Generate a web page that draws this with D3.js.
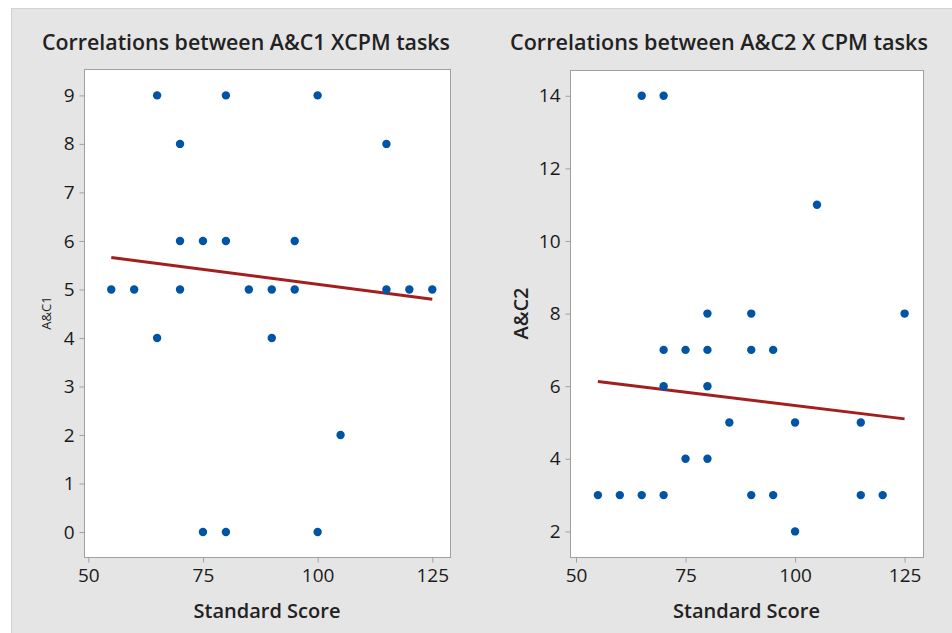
<!DOCTYPE html>
<html>
<head>
<meta charset="utf-8">
<script src="https://cdn.jsdelivr.net/npm/d3@7"></script>
<style>
  body { margin: 0; background: #fff; }
  svg { display: block; font-family: "Open Sans", "Noto Sans", sans-serif; }
</style>
</head>
<body>
<div id="chart"></div>
<script>
// A&C1 vs standard score
const score1 = [65, 80, 100, 70, 115, 70, 75, 80, 95, 55, 60, 70, 85, 90, 95, 115, 120, 125, 65, 90, 105, 75, 80, 100];
const ac1    = [9, 9, 9, 8, 8, 6, 6, 6, 6, 5, 5, 5, 5, 5, 5, 5, 5, 5, 4, 4, 2, 0, 0, 0];
// fitted line (end points)
const fit1 = [[55, 5.66], [125, 4.80]];

// A&C2 vs standard score
const score2 = [65, 70, 105, 80, 90, 125, 70, 75, 80, 90, 95, 70, 80, 85, 100, 115, 75, 80, 55, 60, 65, 70, 90, 95, 115, 120, 100];
const ac2    = [14, 14, 11, 8, 8, 8, 7, 7, 7, 7, 7, 6, 6, 5, 5, 5, 4, 4, 3, 3, 3, 3, 3, 3, 3, 3, 2];
const fit2 = [[55, 6.13], [125, 5.10]];

const xTicks = [50, 75, 100, 125];
const yTicks1 = [0, 1, 2, 3, 4, 5, 6, 7, 8, 9];
const yTicks2 = [2, 4, 6, 8, 10, 12, 14];

const width = 952, height = 633;
const svg = d3.select("#chart").append("svg")
    .attr("width", width)
    .attr("height", height);

// gray backdrop
svg.append("rect")
    .attr("x", 11.5).attr("y", 8.5)
    .attr("width", width).attr("height", height)
    .attr("fill", "#e5e5e5")
    .attr("stroke", "#d2d2d2");

const dotColor = "#0054a6";
const lineColor = "#a31f1f";

function panel(opts) {
  const g = svg.append("g");
  const x = d3.scaleLinear().domain(opts.xDomain).range([opts.left, opts.right]);
  const y = d3.scaleLinear().domain(opts.yDomain).range([opts.bottom, opts.top]);

  // plot area
  g.append("rect")
      .attr("x", opts.left + 0.5).attr("y", opts.top + 0.5)
      .attr("width", opts.right - opts.left).attr("height", opts.bottom - opts.top)
      .attr("fill", "#fff")
      .attr("stroke", "#a0a0a0");

  const xAxis = g.append("g")
      .attr("transform", `translate(0,${opts.bottom + 0.5})`)
      .call(d3.axisBottom(x).tickValues(xTicks).tickSize(5).tickPadding(6).tickSizeOuter(0));
  const yAxis = g.append("g")
      .attr("transform", `translate(${opts.left + 0.5},0)`)
      .call(d3.axisLeft(y).tickValues(opts.yTicks).tickSize(5).tickPadding(5).tickSizeOuter(0));

  [xAxis, yAxis].forEach(a => {
    a.select(".domain").remove();
    a.selectAll(".tick line").attr("stroke", "#a0a0a0");
    a.selectAll(".tick text")
        .attr("fill", "#1a1a1a")
        .style("font-size", "19px")
        .style("font-family", "'Open Sans', sans-serif");
  });

  // fitted line
  g.append("path")
      .datum(opts.fit)
      .attr("d", d3.line().x(d => x(d[0])).y(d => y(d[1])))
      .attr("fill", "none")
      .attr("stroke", lineColor)
      .attr("stroke-width", 3);

  // points
  g.selectAll("circle.pt")
      .data(opts.xs.map((v, i) => [v, opts.ys[i]]))
      .join("circle")
      .attr("class", "pt")
      .attr("cx", d => x(d[0]))
      .attr("cy", d => y(d[1]))
      .attr("r", 4.2)
      .attr("fill", dotColor);

  // title
  g.append("text")
      .attr("x", opts.titleX).attr("y", 50)
      .attr("text-anchor", "middle")
      .attr("textLength", opts.titleLen)
      .attr("lengthAdjust", "spacingAndGlyphs")
      .attr("fill", "#222")
      .style("font-size", "21px")
      .style("font-weight", 600)
      .text(opts.title);

  // x label
  g.append("text")
      .attr("x", (opts.left + opts.right) / 2).attr("y", 618)
      .attr("text-anchor", "middle")
      .attr("fill", "#222")
      .style("font-size", "20px")
      .style("font-weight", 600)
      .text("Standard Score");

  // y label
  g.append("text")
      .attr("transform", `translate(${opts.yLabelX},${(opts.top + opts.bottom) / 2}) rotate(-90)`)
      .attr("text-anchor", "middle")
      .attr("fill", "#222")
      .style("font-size", opts.yLabelSize)
      .style("font-weight", opts.yLabelWeight)
      .text(opts.yLabel);
}

panel({
  left: 84, right: 450, top: 69, bottom: 557,
  xDomain: [49.06, 128.86], yDomain: [-0.515, 9.544],
  yTicks: yTicks1, xs: score1, ys: ac1, fit: fit1,
  title: "Correlations between A&C1 XCPM tasks", titleX: 246, titleLen: 408,
  yLabel: "A&C1", yLabelX: 51, yLabelSize: "13px", yLabelWeight: 400
});

panel({
  left: 570, right: 923, top: 70, bottom: 557,
  xDomain: [48.63, 129.2], yDomain: [1.295, 14.71],
  yTicks: yTicks2, xs: score2, ys: ac2, fit: fit2,
  title: "Correlations between A&C2 X CPM tasks", titleX: 719, titleLen: 418,
  yLabel: "A&C2", yLabelX: 528, yLabelSize: "20px", yLabelWeight: 600
});
</script>
</body>
</html>
